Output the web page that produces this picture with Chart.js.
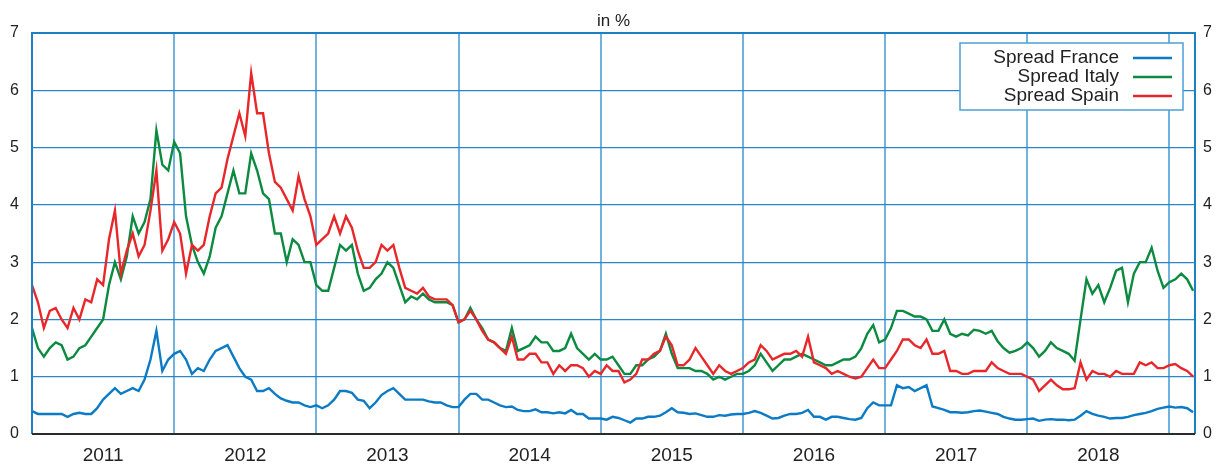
<!DOCTYPE html>
<html>
<head>
<meta charset="utf-8">
<title>Spreads</title>
<script src="https://cdn.jsdelivr.net/npm/chart.js@4/dist/chart.umd.min.js"></script>
<style>
    html, body { margin: 0; padding: 0; background: #fff; }
</style>
</head>
<body>
<canvas id="spread" width="1216" height="464"></canvas>
<script>
// readings twice a month, first point = beginning of 2011
var startYear = 2011;
var pointsPerYear = 24;
var xEnd = 2019.18;

var gridYears = [2011, 2012, 2013, 2014, 2015, 2016, 2017, 2018, 2019];
var yearLabels = ['2011', '2012', '2013', '2014', '2015', '2016', '2017', '2018'];
var yTicks = [0, 1, 2, 3, 4, 5, 6, 7];

var seriesNames = ['Spread France', 'Spread Italy', 'Spread Spain'];

var spreadFrance = [
    0.4, 0.35, 0.35, 0.35, 0.35, 0.35, 0.3, 0.35, 0.37, 0.35, 0.35, 0.45, 0.6, 0.7, 0.8, 0.7, 0.75, 0.8, 0.75, 0.95, 1.3, 1.8, 1.1, 1.3, 1.4,
    1.45, 1.3, 1.05, 1.15, 1.1, 1.3, 1.45, 1.5, 1.55, 1.35, 1.15, 1.0, 0.95, 0.75, 0.75, 0.8, 0.7, 0.62, 0.58, 0.55, 0.55, 0.5, 0.47, 0.5,
    0.45, 0.5, 0.6, 0.75, 0.75, 0.72, 0.6, 0.58, 0.45, 0.55, 0.68, 0.75, 0.8, 0.7, 0.6, 0.6, 0.6, 0.6, 0.57, 0.55, 0.55, 0.5, 0.47, 0.47,
    0.6, 0.7, 0.7, 0.6, 0.6, 0.55, 0.5, 0.47, 0.48, 0.42, 0.4, 0.4, 0.43, 0.38, 0.38, 0.36, 0.38, 0.36, 0.42, 0.35, 0.35, 0.27, 0.27, 0.27,
    0.25, 0.3, 0.28, 0.24, 0.2, 0.27, 0.27, 0.3, 0.3, 0.32, 0.38, 0.45, 0.38, 0.37, 0.35, 0.36, 0.33, 0.3, 0.3, 0.33, 0.32, 0.34, 0.35, 0.35,
    0.37, 0.4, 0.37, 0.32, 0.27, 0.28, 0.32, 0.35, 0.35, 0.37, 0.42, 0.3, 0.3, 0.25, 0.3, 0.3, 0.28, 0.26, 0.25, 0.28, 0.45, 0.55, 0.5, 0.5,
    0.5, 0.85, 0.8, 0.82, 0.75, 0.8, 0.85, 0.48, 0.45, 0.42, 0.38, 0.38, 0.37, 0.38, 0.4, 0.41, 0.39, 0.37, 0.35, 0.3, 0.27, 0.25, 0.25, 0.26,
    0.27, 0.23, 0.25, 0.26, 0.25, 0.25, 0.24, 0.25, 0.32, 0.4, 0.35, 0.32, 0.3, 0.27, 0.28, 0.28, 0.3, 0.33, 0.35, 0.37, 0.4, 0.44, 0.46, 0.48, 0.46, 0.47, 0.45, 0.38
];

var spreadItaly = [
    1.85, 1.5, 1.35, 1.5, 1.6, 1.55, 1.3, 1.35, 1.5, 1.55, 1.7, 1.85, 2.0, 2.6, 3.0, 2.7, 3.1, 3.8, 3.5, 3.7, 4.1, 5.3, 4.7, 4.6, 5.1,
    4.9, 3.8, 3.3, 3.0, 2.8, 3.1, 3.6, 3.8, 4.2, 4.6, 4.2, 4.2, 4.9, 4.6, 4.2, 4.1, 3.5, 3.5, 3.0, 3.4, 3.3, 3.0, 3.0, 2.6,
    2.5, 2.5, 2.9, 3.3, 3.2, 3.3, 2.8, 2.5, 2.55, 2.7, 2.8, 3.0, 2.9, 2.6, 2.3, 2.4, 2.35, 2.45, 2.35, 2.3, 2.3, 2.3, 2.25, 1.95,
    2.0, 2.2, 2.0, 1.85, 1.65, 1.6, 1.5, 1.45, 1.85, 1.45, 1.5, 1.55, 1.7, 1.6, 1.6, 1.45, 1.45, 1.5, 1.75, 1.5, 1.4, 1.3, 1.4, 1.3,
    1.3, 1.35, 1.2, 1.05, 1.05, 1.2, 1.2, 1.3, 1.35, 1.45, 1.75, 1.4, 1.15, 1.15, 1.15, 1.1, 1.1, 1.05, 0.95, 1.0, 0.95, 1.0, 1.05, 1.05,
    1.1, 1.2, 1.4, 1.25, 1.1, 1.2, 1.3, 1.3, 1.35, 1.4, 1.35, 1.3, 1.25, 1.2, 1.2, 1.25, 1.3, 1.3, 1.35, 1.5, 1.75, 1.9, 1.6, 1.65,
    1.85, 2.15, 2.15, 2.1, 2.05, 2.05, 2.0, 1.8, 1.8, 2.0, 1.75, 1.7, 1.75, 1.72, 1.82, 1.8, 1.75, 1.8, 1.62, 1.5, 1.42, 1.45, 1.5, 1.6,
    1.5, 1.35, 1.45, 1.6, 1.5, 1.45, 1.4, 1.28, 2.0, 2.7, 2.45, 2.6, 2.3, 2.55, 2.85, 2.9, 2.3, 2.8, 3.0, 3.0, 3.25, 2.85, 2.55, 2.65, 2.7, 2.8, 2.7, 2.5
];

var spreadSpain = [
    2.6, 2.3, 1.85, 2.15, 2.2, 2.0, 1.85, 2.2, 2.0, 2.35, 2.3, 2.7, 2.6, 3.4, 3.9, 2.8, 3.2, 3.5, 3.1, 3.3, 3.9, 4.6, 3.2, 3.4, 3.7,
    3.5, 2.8, 3.3, 3.2, 3.3, 3.8, 4.2, 4.3, 4.8, 5.2, 5.6, 5.2, 6.3, 5.6, 5.6, 4.9, 4.4, 4.3, 4.1, 3.9, 4.5, 4.1, 3.8, 3.3,
    3.4, 3.5, 3.8, 3.5, 3.8, 3.6, 3.2, 2.9, 2.9, 3.0, 3.3, 3.2, 3.3, 2.9, 2.55, 2.5, 2.45, 2.55, 2.4, 2.35, 2.35, 2.35, 2.25, 1.95,
    2.0, 2.15, 2.0, 1.8, 1.65, 1.6, 1.5, 1.4, 1.7, 1.3, 1.3, 1.4, 1.4, 1.25, 1.25, 1.05, 1.2, 1.1, 1.2, 1.2, 1.15, 1.0, 1.1, 1.05,
    1.2, 1.1, 1.1, 0.9, 0.95, 1.05, 1.3, 1.3, 1.4, 1.45, 1.7, 1.55, 1.2, 1.2, 1.3, 1.5, 1.35, 1.2, 1.05, 1.2, 1.1, 1.05, 1.1, 1.15,
    1.25, 1.3, 1.55, 1.45, 1.3, 1.35, 1.4, 1.4, 1.45, 1.35, 1.7, 1.25, 1.2, 1.15, 1.05, 1.1, 1.05, 1.0, 0.97, 1.0, 1.15, 1.3, 1.15, 1.15,
    1.3, 1.45, 1.65, 1.65, 1.55, 1.5, 1.65, 1.4, 1.4, 1.45, 1.1, 1.1, 1.05, 1.05, 1.1, 1.1, 1.1, 1.25, 1.15, 1.1, 1.05, 1.05, 1.05, 1.0,
    0.95, 0.75, 0.85, 0.95, 0.85, 0.78, 0.78, 0.8, 1.25, 0.95, 1.1, 1.05, 1.05, 1.0, 1.1, 1.05, 1.05, 1.05, 1.25, 1.2, 1.25, 1.15, 1.15, 1.2, 1.22, 1.15, 1.1, 1.0
];

var FONT = '"Liberation Sans", Arial, Helvetica, sans-serif';

function toPoints(values)
{
    var points = [];
    for (var i = 0; i < values.length; i++) {
        points.push({ x: startYear + i / pointsPerYear, y: values[i] });
    }
    return points;
}

function isYearStart(value)
{
    return gridYears.indexOf(value) != -1;
}

// "in %" over the middle of the plot
var titlePlugin = {
    id: 'topTitle',
    afterDraw: function(chart) {
        var ctx = chart.ctx;
        var area = chart.chartArea;
        ctx.save();
        ctx.font = '17px ' + FONT;
        ctx.fillStyle = '#222';
        ctx.textAlign = 'center';
        ctx.textBaseline = 'middle';
        ctx.fillText('in %', (area.left + area.right) / 2, 21);
        ctx.restore();
    }
};

// blue frame round the plot, dark line at the bottom
var framePlugin = {
    id: 'frame',
    afterDatasetsDraw: function(chart) {
        var ctx = chart.ctx;
        var a = chart.chartArea;
        ctx.save();
        ctx.strokeStyle = '#1b7fc3';
        ctx.lineWidth = 2;
        ctx.beginPath();
        ctx.moveTo(a.left, a.bottom);
        ctx.lineTo(a.left, a.top);
        ctx.lineTo(a.right, a.top);
        ctx.lineTo(a.right, a.bottom);
        ctx.stroke();
        ctx.strokeStyle = '#2b2b2b';
        ctx.beginPath();
        ctx.moveTo(a.left, a.bottom);
        ctx.lineTo(a.right, a.bottom);
        ctx.stroke();
        ctx.restore();
    }
};

// legend box: text right aligned, line sample on the right
var legendPlugin = {
    id: 'boxLegend',
    afterDraw: function(chart) {
        var ctx = chart.ctx;
        var a = chart.chartArea;
        var right = a.right - 12;
        var top = a.top + 10;
        var w = 223;
        var h = 67;
        ctx.save();
        ctx.fillStyle = '#fff';
        ctx.fillRect(right - w, top, w, h);
        ctx.strokeStyle = '#4d9fd6';
        ctx.lineWidth = 1.5;
        ctx.strokeRect(right - w, top, w, h);
        ctx.font = '19px ' + FONT;
        ctx.textAlign = 'right';
        ctx.textBaseline = 'middle';
        var sets = chart.data.datasets;
        for (var i = 0; i < sets.length; i++) {
            var y = top + 15 + i * 19;
            ctx.fillStyle = '#222';
            ctx.fillText(sets[i].label, right - 64, y);
            ctx.strokeStyle = sets[i].borderColor;
            ctx.lineWidth = 2.5;
            ctx.beginPath();
            ctx.moveTo(right - 50, y);
            ctx.lineTo(right - 11, y);
            ctx.stroke();
        }
        ctx.restore();
    }
};

var chart = new Chart(document.getElementById('spread'), {
    type: 'line',
    data: {
        datasets: [
            {
                label: seriesNames[0],
                data: toPoints(spreadFrance),
                borderColor: '#0a7bc4',
                order: 0
            },
            {
                label: seriesNames[1],
                data: toPoints(spreadItaly),
                borderColor: '#0b8a40',
                order: 2
            },
            {
                label: seriesNames[2],
                data: toPoints(spreadSpain),
                borderColor: '#e8272b',
                order: 1
            }
        ]
    },
    options: {
        responsive: false,
        animation: false,
        layout: { padding: { top: 33, left: 0, right: 0, bottom: 0 } },
        elements: {
            point: { radius: 0 },
            line: { borderWidth: 2.4, tension: 0, borderJoinStyle: 'miter' }
        },
        plugins: {
            legend: { display: false },
            tooltip: { enabled: false }
        },
        scales: {
            x: {
                type: 'linear',
                min: startYear,
                max: xEnd,
                afterBuildTicks: function(axis) {
                    var ticks = [];
                    for (var i = 0; i < gridYears.length; i++) {
                        ticks.push({ value: gridYears[i] });
                        if (i < yearLabels.length) {
                            ticks.push({ value: gridYears[i] + 0.5 });
                        }
                    }
                    axis.ticks = ticks;
                },
                afterFit: function(axis) { axis.height = 30; },
                ticks: {
                    autoSkip: false,
                    maxRotation: 0,
                    padding: 10,
                    color: '#222',
                    font: { family: FONT, size: 19 },
                    callback: function(value) {
                        if (isYearStart(value)) {
                            return '';
                        }
                        return yearLabels[Math.floor(value) - startYear];
                    }
                },
                grid: {
                    drawTicks: false,
                    color: function(c) {
                        return c.tick && isYearStart(c.tick.value) ? '#72b2de' : 'rgba(0,0,0,0)';
                    },
                    lineWidth: 2
                },
                border: { display: false }
            },
            y: {
                position: 'left',
                min: 0,
                max: 7,
                afterBuildTicks: function(axis) {
                    axis.ticks = yTicks.map(function(v) { return { value: v }; });
                },
                afterFit: function(axis) { axis.width = 32; },
                ticks: {
                    padding: 13,
                    color: '#222',
                    font: { family: FONT, size: 16 }
                },
                grid: {
                    drawTicks: false,
                    color: '#2a86c8',
                    lineWidth: 1.2
                },
                border: { display: false }
            },
            y2: {
                position: 'right',
                min: 0,
                max: 7,
                afterBuildTicks: function(axis) {
                    axis.ticks = yTicks.map(function(v) { return { value: v }; });
                },
                afterFit: function(axis) { axis.width = 21; },
                ticks: {
                    padding: 8,
                    color: '#222',
                    font: { family: FONT, size: 16 }
                },
                grid: { display: false, drawTicks: false },
                border: { display: false }
            }
        }
    },
    plugins: [titlePlugin, framePlugin, legendPlugin]
});
</script>
</body>
</html>
